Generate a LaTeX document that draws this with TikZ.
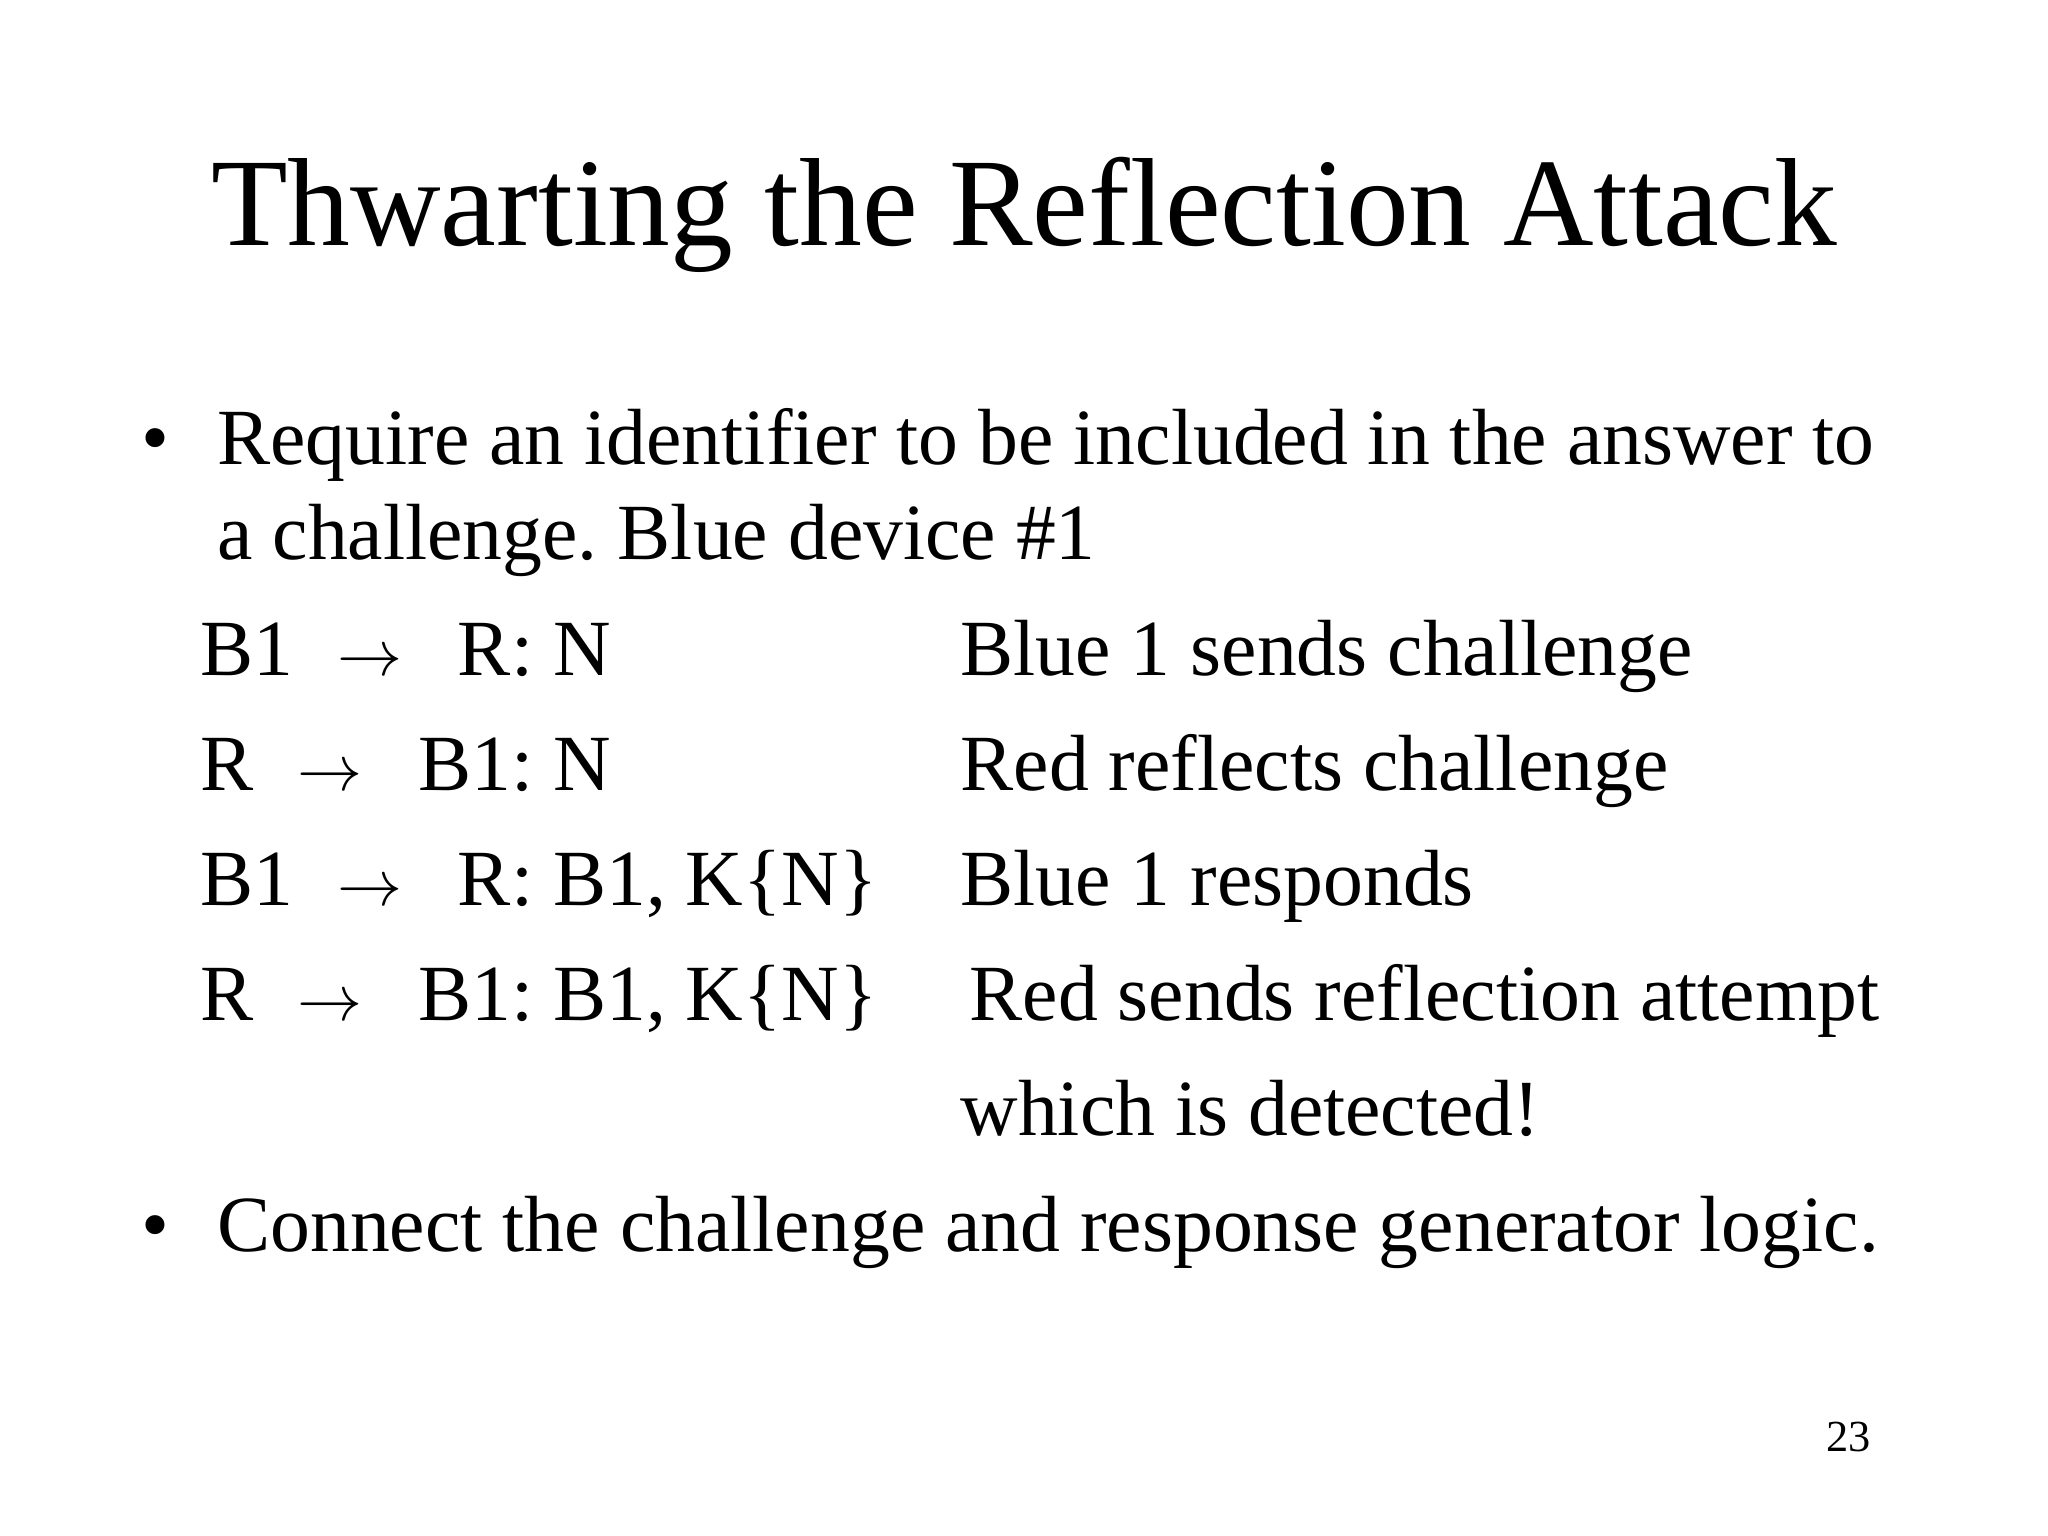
\documentclass[tikz,border=0pt]{standalone}
\usepackage{fontspec}
\setmainfont{Liberation Serif}
\frenchspacing
\newcommand{\arr}{\hspace{0.55em}$\rightarrow$\hspace{0.7em}}
\begin{document}
\begin{tikzpicture}[x=0.5pt,y=-0.5pt,
  body/.style={anchor=base west,inner sep=0pt,font=\fontsize{30.5}{36}\selectfont},
  title/.style={anchor=base,inner sep=0pt,font=\fontsize{48}{56}\selectfont}]
\useasboundingbox[fill=white] (0,0) rectangle (1568,1176);
\node[title] (t) at (784,188) {Thwarting the Reflection Attack};
\node[body] (b1) at (108,356) {\textbullet};
\node[body] (l1) at (166,356) {Require an identifier to be included in the answer to};
\node[body] (l2) at (166,428) {a challenge. Blue device \#1};
\node[body] (a1) at (153,517) {B1\arr R: N};
\node[body] (a2) at (153,605) {R\arr B1: N};
\node[body] (a3) at (153,693) {B1\arr R: B1, K\{N\}};
\node[body] (a4) at (153,781) {R\arr B1: B1, K\{N\}};
\node[body] (c1) at (735,517) {Blue 1 sends challenge};
\node[body] (c2) at (735,605) {Red reflects challenge};
\node[body] (c3) at (735,693) {Blue 1 responds};
\node[body] (c4) at (742,781) {Red sends reflection attempt};
\node[body] (c5) at (735,869) {which is detected!};
\node[body] (b2) at (108,958) {\textbullet};
\node[body] (l3) at (166,958) {Connect the challenge and response generator logic.};
\node[anchor=base east,inner sep=0pt,font=\fontsize{17}{20}\selectfont] (pg) at (1433,1111) {23};
\end{tikzpicture}
\end{document}
